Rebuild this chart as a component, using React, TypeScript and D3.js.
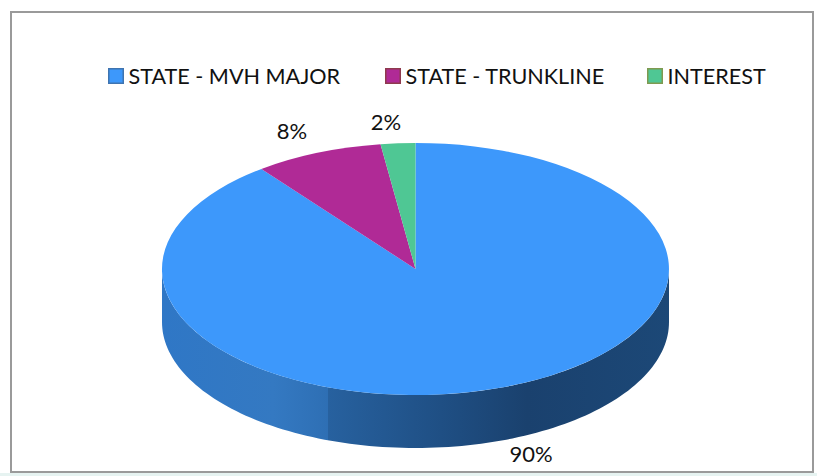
import React from 'react';
import * as d3 from 'd3';

// printed labels are rounded
const categories = ['STATE - MVH MAJOR', 'STATE - TRUNKLINE', 'INTEREST'];
const values = [89.6, 8.2, 2.2];
const colors = ['#3d98fb', '#b02a96', '#4fc794'];
const swatchStroke = ['#3f74b0', '#8f3a4e', '#7f9a50'];
const legendX = [108, 385, 647];
const labelPos = [[531, 462], [292, 139], [386, 130]];

const width = 817;
const height = 476;
const cx = 415.5;
const cy = 269;
const rx = 253.5;
const ry = 126;
const depth = 53;
const font = 'Lato, "Open Sans", sans-serif';

const wallStops = [
  [0, '#2f77c6'],
  [0.22, '#3479c2'],
  [0.327, '#2e6fb4'],
  [0.328, '#27619f'],
  [0.55, '#1f4f84'],
  [0.72, '#1a416e'],
  [1, '#1c4877'],
];

export default function App() {
  const pie = d3.pie<number>().sort(null).value((d) => d);
  const arcs = pie(values);
  const arc = d3.arc<d3.PieArcDatum<number>>().innerRadius(0).outerRadius(1);

  // outer wall of the disc, only the front half is visible
  const theta = d3.scaleLinear().domain([0, 120]).range([Math.PI / 2, (3 * Math.PI) / 2]);
  const wall = d3
    .area<number>()
    .x((i) => cx + rx * Math.sin(theta(i)))
    .y0((i) => cy - ry * Math.cos(theta(i)))
    .y1((i) => cy - ry * Math.cos(theta(i)) + depth);

  return (
    <svg
      width={width}
      height={height}
      style={{ position: 'absolute', left: 0, top: 0, background: '#fff' }}
    >
      <defs>
        <linearGradient id="wall" gradientUnits="userSpaceOnUse" x1={cx - rx} x2={cx + rx} y1={0} y2={0}>
          {wallStops.map(([o, c], i) => (
            <stop key={i} offset={o as number} stopColor={c as string} />
          ))}
        </linearGradient>
      </defs>

      <rect x={0} y={473} width={width} height={3} fill="#e6f3f1" />
      <rect x={11} y={12} width={802} height={460} fill="#fff" stroke="#9a9a9a" strokeWidth={2} />

      <path d={wall(d3.range(0, 121)) ?? ''} fill="url(#wall)" />
      <g transform={`translate(${cx},${cy}) scale(${rx},${ry})`}>
        {arcs.map((d, i) => (
          <path key={i} d={arc(d) ?? ''} fill={colors[i]} />
        ))}
      </g>

      {categories.map((c, i) => (
        <g key={c}>
          <rect
            x={legendX[i] + 0.75}
            y={68.75}
            width={14.5}
            height={14.5}
            fill={colors[i]}
            stroke={swatchStroke[i]}
            strokeWidth={1.5}
          />
          <text x={legendX[i] + 20.5} y={84} fontFamily={font} fontSize={21.6} fill="#111">
            {c}
          </text>
        </g>
      ))}

      {values.map((v, i) => (
        <text
          key={i}
          x={labelPos[i][0]}
          y={labelPos[i][1]}
          textAnchor="middle"
          fontFamily={font}
          fontSize={22}
          fill="#111"
        >
          {`${Math.round(v)}%`}
        </text>
      ))}
    </svg>
  );
}
